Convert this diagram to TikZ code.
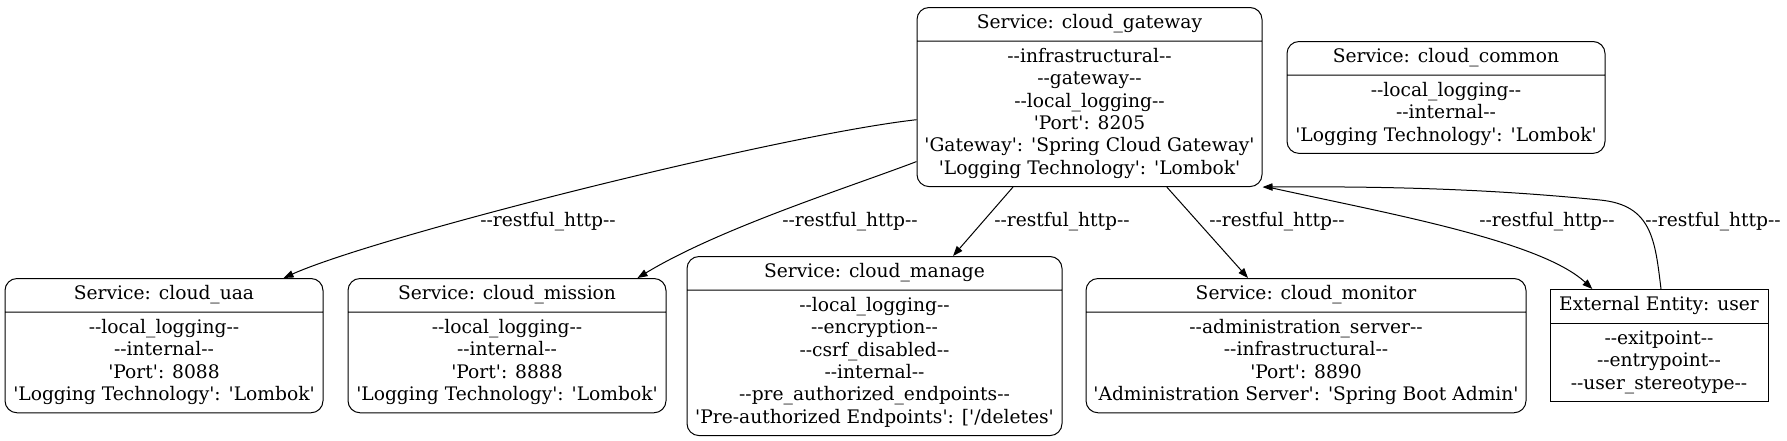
\documentclass[tikz,border=0pt]{standalone}
\usepackage{fontspec}
\newfontfamily\gvfont{DejaVu Serif}[Ligatures=TeXOff]
\usetikzlibrary{arrows.meta,shapes.multipart}
\tikzset{
  svc/.style={
    rectangle split, rectangle split parts=2, draw,
    rounded corners=9pt, align=center,
    inner xsep=4pt, inner ysep=3.8pt, line width=0.75pt,
    font=\fontsize{14}{16.8}\gvfont, anchor=north
  },
  ext/.style={svc, sharp corners},
  lbl/.style={font=\fontsize{14}{16.8}\gvfont, inner sep=0pt},
  flow/.style={-{Triangle[length=7.5pt,width=5.5pt]}, line width=0.75pt}
}

\begin{document}
\begin{tikzpicture}[x=0.75pt,y=-0.75pt]
  \useasboundingbox (0,0) rectangle (1787,440);
  % services
  \node[svc, minimum width=258.75pt] (gw) at (1089.5,7) {\strut Service: cloud\_gateway
    \nodepart{two}\strut --infrastructural--\\--gateway--\\--local\_logging--\\'Port': 8205\\'Gateway': 'Spring Cloud Gateway'\\'Logging Technology': 'Lombok'\strut};
  \node[svc, minimum width=238.5pt] (common) at (1446,41) {\strut Service: cloud\_common
    \nodepart{two}\strut --local\_logging--\\--internal--\\'Logging Technology': 'Lombok'\strut};
  \node[svc, minimum width=238.5pt] (uaa) at (164,278) {\strut Service: cloud\_uaa
    \nodepart{two}\strut --local\_logging--\\--internal--\\'Port': 8088\\'Logging Technology': 'Lombok'\strut};
  \node[svc, minimum width=238.5pt] (mission) at (507,278) {\strut Service: cloud\_mission
    \nodepart{two}\strut --local\_logging--\\--internal--\\'Port': 8888\\'Logging Technology': 'Lombok'\strut};
  \node[svc, minimum width=281.25pt] (manage) at (874.5,256) {\strut Service: cloud\_manage
    \nodepart{two}\strut --local\_logging--\\--encryption--\\--csrf\_disabled--\\--internal--\\--pre\_authorized\_endpoints--\\'Pre-authorized Endpoints': ['/deletes'\strut};
  \node[svc, minimum width=330pt] (monitor) at (1306,278) {\strut Service: cloud\_monitor
    \nodepart{two}\strut --administration\_server--\\--infrastructural--\\'Port': 8890\\'Administration Server': 'Spring Boot Admin'\strut};
  % external entity
  \node[ext, minimum width=163.5pt] (usr) at (1659,289) {\strut External Entity: user
    \nodepart{two}\strut --exitpoint--\\--entrypoint--\\--user\_stereotype--\strut};

  % flows
  \draw[flow] ([yshift=-17pt]gw.west) .. controls (780,135) and (380,235) .. ([xshift=-30pt]uaa.north east);
  \draw[flow] ([yshift=-48.4pt]gw.west) .. controls (850,187) and (720,228) .. ([xshift=-21.75pt]mission.north east);
  \draw[flow] ([xshift=-57.4pt]gw.south) -- ([xshift=58.9pt]manage.north);
  \draw[flow] ([xshift=58pt]gw.south) -- ([xshift=-43.5pt]monitor.north);
  \draw[flow] ([xshift=4pt]gw.south east) .. controls (1380,212) and (1540,240) .. ([xshift=-50pt]usr.north);
  \draw[flow] ([xshift=1.5pt]usr.north) .. controls (1655,240) and (1652,205) .. (1600,200)
    .. controls (1500,190) and (1400,186) .. (gw.south east);

  % flow labels
  \node[lbl] (l1) at (548,222) {--restful\_http--};
  \node[lbl] (l2) at (850,222) {--restful\_http--};
  \node[lbl] (l3) at (1062,222) {--restful\_http--};
  \node[lbl] (l4) at (1277,222) {--restful\_http--};
  \node[lbl] (l5) at (1547,222) {--restful\_http--};
  \node[lbl] (l6) at (1713,222) {--restful\_http--};
\end{tikzpicture}
\end{document}
